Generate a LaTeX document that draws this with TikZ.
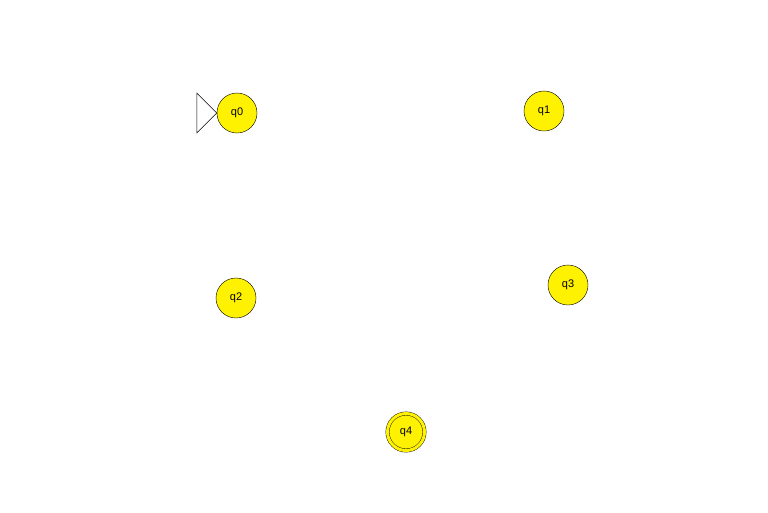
\documentclass[tikz,border=0pt]{standalone}
\usepackage{fontspec}
\setmainfont{Liberation Sans}
\begin{document}
\begin{tikzpicture}[x=1pt,y=-1pt,
  state/.style={circle,draw=black,fill=yellow,minimum size=40pt,inner sep=0pt,font=\fontsize{11}{13}\selectfont},
  accepting/.style={double=yellow,double distance=3pt,minimum size=37pt},
  initmark/.style={draw=black,line width=0.6pt}]
\useasboundingbox[fill=white] (0,0) rectangle (768,512);
\node[state] (q0) at (237,113) {q0};
\node[state] (q1) at (544,111) {q1};
\node[state] (q2) at (236,298) {q2};
\node[state] (q3) at (568,285) {q3};
\node[state,accepting] (q4) at (406,432) {q4};
\draw[initmark] (q0.west) -- ++(-20,-20) -- ++(0,40) -- cycle;
\end{tikzpicture}
\end{document}
